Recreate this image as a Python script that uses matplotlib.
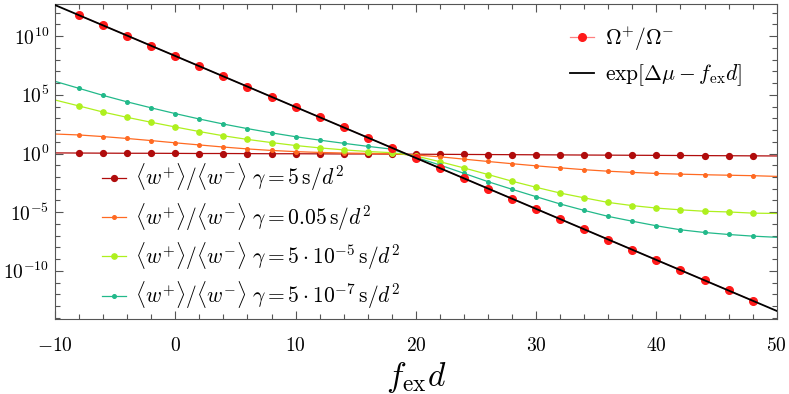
import numpy as np
import matplotlib
matplotlib.use('Agg')
import matplotlib.pyplot as plt
from matplotlib.ticker import FixedLocator, MultipleLocator, NullFormatter

matplotlib.rcParams.update({'mathtext.fontset': 'cm', 'font.size': 13})

# sampling grid of the curves (f_ex d)
fd = np.arange(-10, 51, 2)

# log10 of <w+>/<w->, x = -10 ... 50
darkred_log = [0.05, 0.04, 0.03, 0.02, 0.02, 0.01, 0.0, 0.0, -0.01, -0.02, -0.02,
               -0.03, -0.04, -0.04, -0.05, -0.06, -0.07, -0.08, -0.09, -0.10, -0.11,
               -0.12, -0.13, -0.14, -0.15, -0.16, -0.17, -0.18, -0.19, -0.20, -0.21]
orange_log = [1.66, 1.58, 1.44, 1.28, 1.10, 0.91, 0.73, 0.55, 0.39, 0.26, 0.16,
              0.09, 0.04, 0.01, -0.03, -0.13, -0.28, -0.48, -0.68, -0.87, -1.05,
              -1.22, -1.38, -1.51, -1.61, -1.70, -1.76, -1.81, -1.85, -1.89, -1.95]
green_log = [4.56, 4.05, 3.53, 3.08, 2.66, 2.26, 1.87, 1.51, 1.20, 0.93, 0.68,
             0.48, 0.31, 0.17, 0.07, -0.21, -0.70, -1.23, -1.79, -2.36, -2.88,
             -3.37, -3.78, -4.17, -4.44, -4.65, -4.80, -4.92, -4.98, -5.08, -5.11]
teal_log = [6.15, 5.55, 4.95, 4.40, 3.89, 3.40, 2.94, 2.51, 2.12, 1.76, 1.43,
            1.14, 0.87, 0.61, 0.37, -0.33, -0.98, -1.69, -2.40, -3.05, -3.68,
            -4.30, -4.85, -5.36, -5.77, -6.16, -6.50, -6.73, -6.90, -7.04, -7.14]

# Omega+/Omega- points, x = -8 ... 48
omega_fd = np.arange(-8, 49, 2)
omega_log = [11.78, 10.92, 10.05, 9.18, 8.31, 7.44, 6.57, 5.70, 4.83, 3.96,
             3.10, 2.23, 1.36, 0.49, -0.38, -1.25, -2.12, -2.99, -3.85, -4.72,
             -5.59, -6.46, -7.33, -8.20, -9.07, -9.93, -10.80, -11.67, -12.54]

# exp[dmu - f d] line
exp_fd = [-10, 0, 10, 20, 30, 40, 50]
exp_log = [12.65, 8.31, 3.96, -0.38, -4.72, -9.07, -13.41]

curves = [
    (darkred_log, '#b00c0c', 4.2, r'$\langle w^{+}\rangle/\langle w^{-}\rangle\ \gamma = 5\,\mathrm{s}/d^2$'),
    (orange_log, '#ff6a22', 2.6, r'$\langle w^{+}\rangle/\langle w^{-}\rangle\ \gamma = 0.05\,\mathrm{s}/d^2$'),
    (green_log, '#aef01e', 3.8, r'$\langle w^{+}\rangle/\langle w^{-}\rangle\ \gamma = 5\cdot 10^{-5}\,\mathrm{s}/d^2$'),
    (teal_log, '#22b98a', 2.6, r'$\langle w^{+}\rangle/\langle w^{-}\rangle\ \gamma = 5\cdot 10^{-7}\,\mathrm{s}/d^2$'),
]

fig = plt.figure(figsize=(7.89, 3.94), dpi=100)
ax = fig.add_axes([0.0697, 0.1904, 0.9147, 0.7986])

handles1 = []
for vals, col, ms, lab in curves:
    h, = ax.plot(fd, 10.0 ** np.array(vals), '-o', color=col, lw=0.9, ms=ms,
                 markevery=slice(1, -1), label=lab, zorder=2)
    handles1.append(h)

h_om, = ax.plot(omega_fd, 10.0 ** np.array(omega_log), '-o', color='#ff8080', lw=0.9,
                mfc='#ff1a1a', mec='#ff1a1a', ms=5.5, label=r'$\Omega^{+}/\Omega^{-}$', zorder=3)
h_ex, = ax.plot(exp_fd, 10.0 ** np.array(exp_log), '-', color='black', lw=1.3,
                label=r'$\exp[\Delta\mu - f_{\rm ex}d]$', zorder=4)

ax.set_yscale('log')
ax.set_xlim(-10, 50)
ax.set_ylim(10 ** -14.1, 10 ** 12.71)

ax.set_yticks([1e-10, 1e-5, 1e0, 1e5, 1e10],
              labels=[r'$10^{-10}$', r'$10^{-5}$', r'$10^{0}$', r'$10^{5}$', r'$10^{10}$'])
ax.yaxis.set_minor_locator(FixedLocator(10.0 ** np.arange(-14, 13)))
ax.yaxis.set_minor_formatter(NullFormatter())
ax.set_xticks([-10, 0, 10, 20, 30, 40, 50],
              labels=[r'$-10$', r'$0$', r'$10$', r'$20$', r'$30$', r'$40$', r'$50$'])
ax.xaxis.set_minor_locator(MultipleLocator(2))

ax.tick_params(which='both', direction='in', top=True, right=True, color='#555555',
               width=0.8, labelsize=14)
ax.tick_params(which='major', length=6)
ax.tick_params(which='minor', length=3.5)
ax.tick_params(axis='x', pad=12)
ax.tick_params(axis='y', pad=4)
for s in ax.spines.values():
    s.set_color('#555555')
    s.set_linewidth(0.8)

ax.set_xlabel(r'$f_{\rm ex}d$', fontsize=24, labelpad=4)

leg1 = ax.legend(handles=handles1, loc='lower left', bbox_to_anchor=(0.05, -0.01),
                 frameon=False, fontsize=15.5, handlelength=1.1, handletextpad=0.45,
                 labelspacing=0.36, borderpad=0)
ax.add_artist(leg1)
ax.legend(handles=[h_om, h_ex], loc='upper left', bbox_to_anchor=(0.699, 0.97),
          frameon=False, fontsize=15.5, handlelength=1.1, handletextpad=0.5,
          labelspacing=0.45, borderpad=0)

fig.savefig('out.png', dpi=100)
